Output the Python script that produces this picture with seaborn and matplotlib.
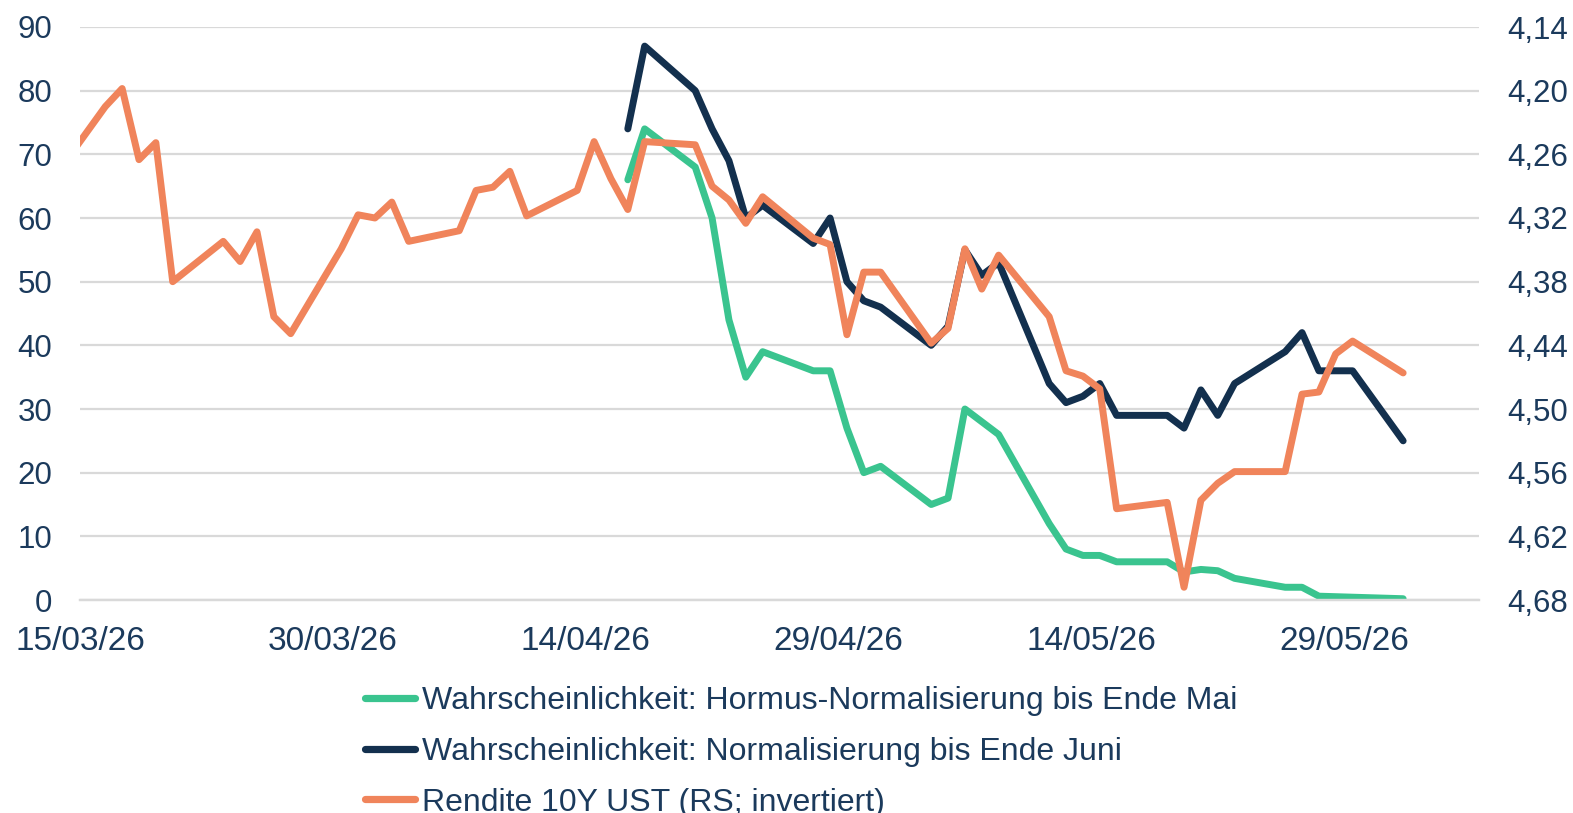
import pandas as pd
import matplotlib
matplotlib.use("Agg")
import matplotlib.pyplot as plt
import matplotlib.dates as mdates
from matplotlib.ticker import FuncFormatter, MultipleLocator
from matplotlib.lines import Line2D
import seaborn as sns

# ── data ──────────────────────────────────────────────────
base = pd.Timestamp("2026-03-15")

hormus_days = [32, 33, 36, 37, 38, 39, 40, 43, 44, 45, 46, 47, 50, 51, 52, 53, 54,
               57, 58, 59, 60, 61, 64, 65, 66, 67, 68, 71, 72, 73, 78]
hormus_prob = [66, 74, 68, 60, 44, 35, 39, 36, 36, 27, 20, 21, 15, 16, 30, 28, 26,
               12, 8, 7, 7, 6, 6, 4.4, 4.8, 4.6, 3.4, 2.0, 2.0, 0.6, 0.2]

juni_days = [32, 33, 36, 37, 38, 39, 40, 43, 44, 45, 46, 47, 50, 51, 52, 53, 54,
             57, 58, 59, 60, 61, 64, 65, 66, 67, 68, 71, 72, 73, 74, 75, 78]
juni_prob = [74, 87, 80, 74, 69, 60, 62, 56, 60, 50, 47, 46, 40, 43, 55, 51, 53,
             34, 31, 32, 34, 29, 29, 27, 33, 29, 34, 39, 42, 36, 36, 36, 25]

ust_days = [-2, 1, 2, 3, 4, 5, 8, 9, 10, 11, 12, 15, 16, 17, 18, 19, 22, 23, 24, 25,
            26, 29, 30, 31, 32, 33, 36, 37, 38, 39, 40, 43, 44, 45, 46, 47, 50, 51,
            52, 53, 54, 57, 58, 59, 60, 61, 64, 65, 66, 67, 68, 71, 72, 73, 74, 75, 78]
ust_yield = [4.281, 4.215, 4.198, 4.265, 4.249, 4.380, 4.342, 4.361, 4.333, 4.413,
             4.429, 4.349, 4.317, 4.320, 4.305, 4.342, 4.332, 4.294, 4.291, 4.276,
             4.318, 4.294, 4.248, 4.283, 4.312, 4.248, 4.251, 4.290, 4.303, 4.325,
             4.300, 4.339, 4.345, 4.430, 4.371, 4.371, 4.438, 4.424, 4.349, 4.387,
             4.355, 4.413, 4.464, 4.469, 4.481, 4.594, 4.588, 4.668, 4.586, 4.570,
             4.559, 4.559, 4.486, 4.484, 4.448, 4.436, 4.466]

labels = ["Wahrscheinlichkeit: Hormus-Normalisierung bis Ende Mai",
          "Wahrscheinlichkeit: Normalisierung bis Ende Juni",
          "Rendite 10Y UST (RS; invertiert)"]
colors = ["#3ac48f", "#13304e", "#f0845b"]
txt = "#1b3a5c"
grid = "#d9d9d9"


def to_dates(days):
    # points sit in the middle of their day, like a date axis in Excel
    return [base + pd.Timedelta(days=d, hours=12) for d in days]


# ── figure ────────────────────────────────────────────────
sns.set_style("white")
plt.rcParams["font.family"] = ["Liberation Sans", "DejaVu Sans"]

fig = plt.figure(figsize=(15.73, 8.13), dpi=100)
ax = fig.add_axes([80 / 1573, 1 - 600 / 813, 1399 / 1573, 573 / 813])
ax2 = ax.twinx()

kw = dict(linewidth=5.0, solid_capstyle="round", solid_joinstyle="round")
sns.lineplot(x=to_dates(hormus_days), y=hormus_prob, ax=ax, color=colors[0], **kw)
sns.lineplot(x=to_dates(juni_days), y=juni_prob, ax=ax, color=colors[1], **kw)
sns.lineplot(x=to_dates(ust_days), y=ust_yield, ax=ax2, color=colors[2], **kw)

ax.set_ylim(0, 90)
ax.yaxis.set_major_locator(MultipleLocator(10))
ax2.set_ylim(4.68, 4.14)
ax2.set_yticks([4.14 + 0.06 * i for i in range(10)])
ax2.yaxis.set_major_formatter(FuncFormatter(lambda v, p: f"{v:.2f}".replace(".", ",")))

ax.set_xlim(base, base + pd.Timedelta(days=83))
ax.set_xticks(pd.date_range(base, periods=6, freq="15D"))
ax.xaxis.set_major_formatter(mdates.DateFormatter("%d/%m/%y"))

ax.grid(axis="y", color=grid, linewidth=1.6)
ax.grid(axis="x", visible=False)
ax2.grid(False)
ax.set_axisbelow(True)

for a in (ax, ax2):
    for s in ("top", "left", "right"):
        a.spines[s].set_visible(False)
    a.spines["bottom"].set_color(grid)
    a.spines["bottom"].set_linewidth(1.6)
    a.set_xlabel("")
    a.set_ylabel("")

ax.tick_params(axis="x", direction="out", length=8, width=1.6, color=grid,
               labelsize=24, labelcolor=txt, pad=11)
ax.tick_params(axis="y", length=0, labelsize=22.5, labelcolor=txt, pad=20)
ax2.tick_params(axis="y", length=0, labelsize=22.5, labelcolor=txt, pad=20)

handles = [Line2D([], [], color=c, linewidth=5.2, solid_capstyle="round") for c in colors]
fig.legend(handles, labels, loc="upper left", bbox_to_anchor=(365 / 1573, 1 - 686 / 813),
           frameon=False, fontsize=23, labelcolor=txt, handlelength=1.57,
           handletextpad=0.2, labelspacing=0.65, borderpad=0, borderaxespad=0)

fig.savefig("out.png", dpi=100)
